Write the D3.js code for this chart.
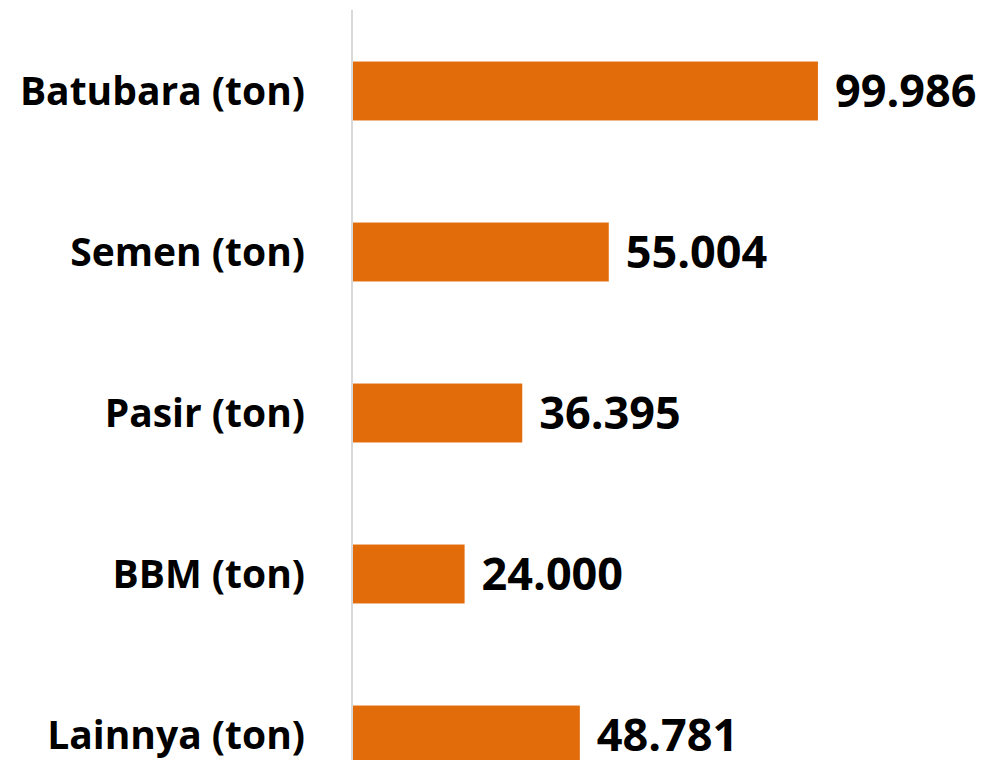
<!DOCTYPE html>
<html>
<head>
<meta charset="utf-8">
<script src="https://cdn.jsdelivr.net/npm/d3@7"></script>
<style>
  body { margin: 0; background: #fff; }
  svg { display: block; }
</style>
</head>
<body>
<script>
var categories = ["Batubara (ton)", "Semen (ton)", "Pasir (ton)", "BBM (ton)", "Lainnya (ton)"],
    values = [99.986, 55.004, 36.395, 24.000, 48.781],
    valueLabels = ["99.986", "55.004", "36.395", "24.000", "48.781"];

var width = 987,
    height = 760,
    axisX = 353,
    labelGap = 17;

var svg = d3.select("body").append("svg")
    .attr("width", width)
    .attr("height", height);

var x = d3.scaleLinear()
    .domain([0, 100])
    .range([axisX, axisX + 465]);

// bands keep going past the bottom edge, last bar is cut off like the original
var y = d3.scaleBand()
    .domain(categories)
    .range([10.5, 815.5])
    .paddingInner(0.634)
    .paddingOuter(0.317);

var data = categories.map(function(c, i) {
    return { name: c, value: values[i], label: valueLabels[i] };
});

svg.append("g").selectAll("rect")
    .data(data)
    .enter()
        .append("rect")
            .attr("x", x(0))
            .attr("y", function(d) { return y(d.name); })
            .attr("width", function(d) { return x(d.value) - x(0); })
            .attr("height", y.bandwidth())
            .style("fill", "#E36C0A");

// vertical axis line
svg.append("line")
    .attr("x1", axisX - 1).attr("x2", axisX - 1)
    .attr("y1", 10).attr("y2", height)
    .style("stroke", "#d9d9d9")
    .style("stroke-width", 2);

svg.append("g").selectAll("text")
    .data(data)
    .enter()
        .append("text")
            .attr("x", 305)
            .attr("y", function(d) { return y(d.name) + y.bandwidth() / 2; })
            .attr("dy", "0.36em")
            .attr("text-anchor", "end")
            .style("font-family", "'Open Sans', sans-serif")
            .style("font-weight", "bold")
            .style("font-size", "39px")
            .style("fill", "#000")
            .text(function(d) { return d.name; });

svg.append("g").selectAll("text")
    .data(data)
    .enter()
        .append("text")
            .attr("x", function(d) { return x(d.value) + labelGap; })
            .attr("y", function(d) { return y(d.name) + y.bandwidth() / 2; })
            .attr("dy", "0.36em")
            .style("font-family", "'Open Sans', sans-serif")
            .style("font-weight", "bold")
            .style("font-size", "45px")
            .style("fill", "#000")
            .text(function(d) { return d.label; });
</script>
</body>
</html>
